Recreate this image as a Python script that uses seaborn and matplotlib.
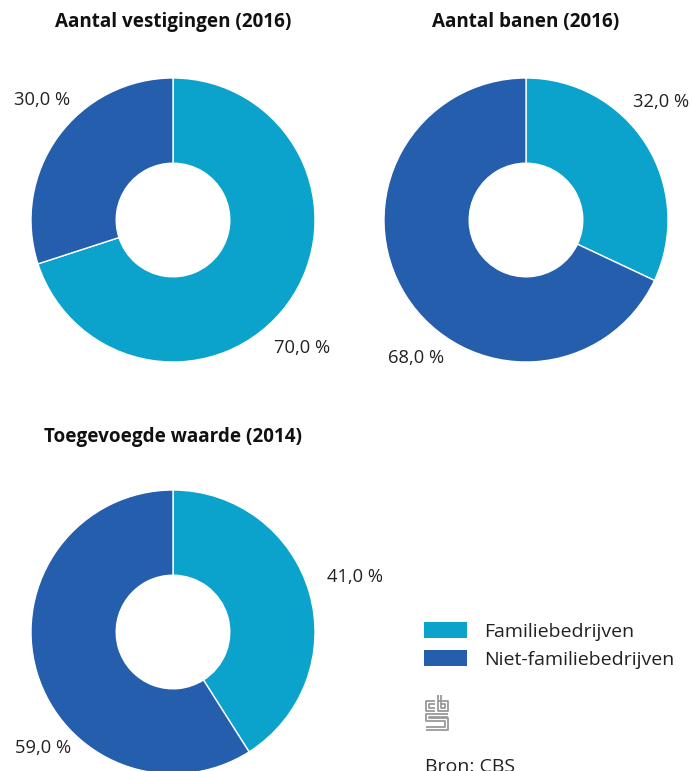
import matplotlib
matplotlib.use("Agg")
import matplotlib.pyplot as plt
from matplotlib.patches import Patch
import seaborn as sns

# ── Data ───────────────────────────────────────────────────────────────────
CATEGORIES = ["Familiebedrijven", "Niet-familiebedrijven"]
TITLES = ["Aantal vestigingen (2016)", "Aantal banen (2016)", "Toegevoegde waarde (2014)"]
FAMILIE = [70.0, 32.0, 41.0]
NIET_FAMILIE = [30.0, 68.0, 59.0]
SOURCE = "Bron: CBS"

COLORS = ["#0ba3cc", "#245ead"]
FONT = "Open Sans"

sns.set_theme(style="white")
plt.rcParams["font.family"] = [FONT, "DejaVu Sans"]

W, H = 692, 771
fig = plt.figure(figsize=(W / 100, H / 100), dpi=100)
fig.patch.set_facecolor("white")

# pie centres in pixels (x, y from top), radius in pixels
CENTRES = [(173, 220), (526, 220), (173, 632)]
RADIUS = 142
PAD = 1.06
# label anchor in pixels, relative to the centre (dx, dy up)
LABEL_POS = [
    [(129, -128), (-131, 120)],
    [(135, 118), (-110, -138)],
    [(182, 55), (-130, -116)],
]
TITLE_Y = [22, 22, 437]


def px_to_fig(x, y):
    return x / W, 1 - y / H


for i, (cx, cy) in enumerate(CENTRES):
    size = 2 * RADIUS * PAD
    ax = fig.add_axes([(cx - size / 2) / W, (H - cy - size / 2) / H, size / W, size / H])
    values = [FAMILIE[i], NIET_FAMILIE[i]]
    ax.pie(
        values,
        colors=COLORS,
        startangle=90,
        counterclock=False,
        wedgeprops=dict(width=0.6, edgecolor="white", linewidth=1.0),
    )
    ax.set_xlim(-PAD, PAD)
    ax.set_ylim(-PAD, PAD)
    ax.set_aspect("equal")
    ax.axis("off")
    for v, (dx, dy) in zip(values, LABEL_POS[i]):
        ax.text(dx / RADIUS, dy / RADIUS, f"{v:.1f}".replace(".", ",") + " %",
                ha="center", va="center", fontsize=13.2, color="#222222")
    tx, ty = px_to_fig(cx, TITLE_Y[i])
    fig.text(tx, ty, TITLES[i], ha="center", va="center", fontsize=13.6,
             fontweight="bold", color="#111111")

# legend
handles = [Patch(facecolor=c, edgecolor="none") for c in COLORS]
lx, ly = px_to_fig(424, 622)
fig.legend(handles, CATEGORIES, loc="upper left", bbox_to_anchor=(lx, ly),
           frameon=False, fontsize=14, handlelength=2.2, handleheight=0.87,
           handletextpad=0.88, labelspacing=0.5, borderpad=0, borderaxespad=0,
           labelcolor="#222222")

# CBS logo (simplified)
lax = fig.add_axes([425 / W, (H - 731) / H, 24 / W, 37 / H])
lax.set_xlim(0, 24)
lax.set_ylim(0, 37)
lax.axis("off")
grey = "#9a9a9a"
kw = dict(color=grey, lw=1.3, solid_capstyle="butt")
# c
lax.plot([10, 1, 1, 10], [30, 30, 20, 20], **kw)
lax.plot([10, 4, 4, 10], [27, 27, 23, 23], **kw)
# b
lax.plot([13, 13, 23, 23, 13], [36, 20, 20, 30, 30], **kw)
lax.plot([16, 16, 20, 20, 16], [36, 23, 23, 27, 27], **kw)
# s
lax.plot([23, 1, 1, 20, 20, 1], [17, 17, 10, 10, 4, 4], **kw)
lax.plot([23, 4, 4, 23, 23, 1], [14, 14, 13, 13, 1, 1], **kw)

sx, sy = px_to_fig(425, 758)
fig.text(sx, sy, SOURCE, ha="left", va="top", fontsize=14, color="#222222")

fig.savefig("out.png", dpi=100)
